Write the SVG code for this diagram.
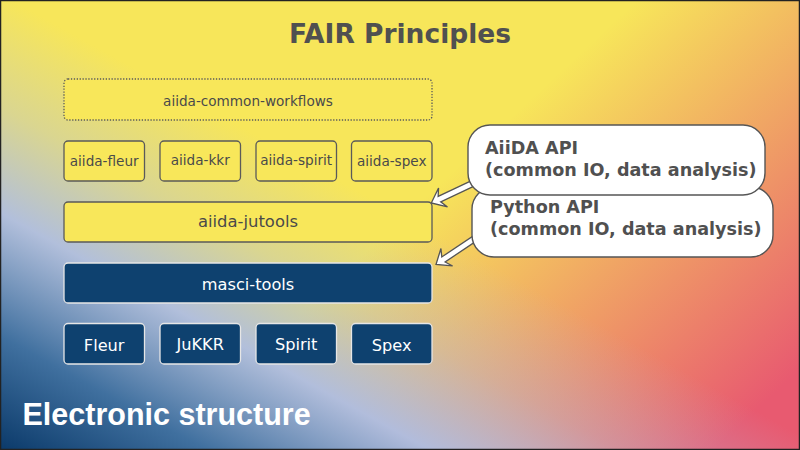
<svg xmlns="http://www.w3.org/2000/svg" width="800" height="450" viewBox="0 0 800 450">
<defs>
<linearGradient id="gRed" gradientUnits="userSpaceOnUse" x1="540" y1="90" x2="800" y2="370">
<stop offset="0" stop-color="#e85a70" stop-opacity="0"/>
<stop offset="1" stop-color="#e85a70" stop-opacity="1"/>
</linearGradient>
<linearGradient id="gBlue" gradientUnits="userSpaceOnUse" x1="0" y1="450" x2="193" y2="100">
<stop offset="0" stop-color="#0b3a6a" stop-opacity="1"/>
<stop offset="0.25" stop-color="#40709f" stop-opacity="1"/>
<stop offset="0.52" stop-color="#aebde2" stop-opacity="0.95"/>
<stop offset="0.75" stop-color="#aebde2" stop-opacity="0.4"/>
<stop offset="1" stop-color="#aebde2" stop-opacity="0"/>
</linearGradient>
<style>
.yb{fill:#f8e75a;stroke:#5a5a5a;stroke-width:1.3}
.db{fill:#0e416f;stroke:#e6e6e6;stroke-width:1.3}
.dot{stroke-dasharray:1.3 1.6}
.t{font-family:"DejaVu Sans",sans-serif;text-anchor:middle}
.tg{fill:#4a4a4a}
.tw{fill:#ffffff}
.s{font-size:13.6px}
.m{font-size:16.2px}
.co{fill:#ffffff;stroke:#555555;stroke-width:1.4}
.ct{font-family:"DejaVu Sans",sans-serif;font-weight:bold;font-size:17.6px;fill:#505050}
.ar{fill:#ffffff;stroke:#555555;stroke-width:1.3;stroke-linejoin:miter}
</style>
</defs>
<g id="background">
<rect x="0" y="0" width="800" height="450" fill="#f7e65a"/>
<rect x="0" y="0" width="800" height="450" fill="url(#gRed)"/>
<rect x="0" y="0" width="800" height="450" fill="url(#gBlue)"/>
<rect x="0.5" y="0.5" width="799" height="449" fill="none" stroke="#222222" stroke-width="1.5"/>
</g>
<text x="400" y="43" font-family="DejaVu Sans, sans-serif" font-weight="bold" font-size="26.5" fill="#505050" text-anchor="middle">FAIR Principles</text>
<g id="aiida-common-workflows">
<rect class="yb dot" x="64" y="79" width="368" height="41" rx="4"/>
<text class="t tg s" x="248" y="105.5">aiida-common-workflows</text>
</g>
<g id="aiida-fleur">
<rect class="yb" x="64" y="141" width="80.5" height="40" rx="4"/>
<text class="t tg s" x="104.2" y="166">aiida-fleur</text>
</g>
<g id="aiida-kkr">
<rect class="yb" x="160" y="141" width="80.5" height="40" rx="4"/>
<text class="t tg s" x="200.2" y="165">aiida-kkr</text>
</g>
<g id="aiida-spirit">
<rect class="yb" x="256" y="141" width="80.5" height="40" rx="4"/>
<text class="t tg s" x="296.2" y="165">aiida-spirit</text>
</g>
<g id="aiida-spex">
<rect class="yb" x="351.5" y="141" width="80.5" height="40" rx="4"/>
<text class="t tg s" x="391.7" y="166">aiida-spex</text>
</g>
<g id="aiida-jutools">
<rect class="yb" x="64" y="202" width="368" height="40" rx="4"/>
<text class="t tg" x="248" y="227" font-size="16.4">aiida-jutools</text>
</g>
<g id="masci-tools">
<rect class="db" x="64" y="263" width="368" height="40" rx="4"/>
<text class="t tw m" x="248" y="290">masci-tools</text>
</g>
<g id="Fleur">
<rect class="db" x="64" y="323.5" width="80.5" height="40.5" rx="4"/>
<text class="t tw m" x="104.2" y="350.5">Fleur</text>
</g>
<g id="JuKKR">
<rect class="db" x="160" y="323.5" width="80.5" height="40.5" rx="4"/>
<text class="t tw m" x="200.2" y="349.5">JuKKR</text>
</g>
<g id="Spirit">
<rect class="db" x="256" y="323.5" width="80.5" height="40.5" rx="4"/>
<text class="t tw m" x="296.2" y="349.5">Spirit</text>
</g>
<g id="Spex">
<rect class="db" x="351.5" y="323.5" width="80.5" height="40.5" rx="4"/>
<text class="t tw m" x="391.7" y="350.5">Spex</text>
</g>
<g id="connectors">
<polygon class="ar" transform="translate(476.5,181.6) rotate(154.7)" points="0,-3 41,-3 37,-10.5 50,0 37,10.5 41,3 0,3"/>
<polygon class="ar" transform="translate(477.5,236.6) rotate(146.1)" points="0,-3 41,-3 37,-10.5 50,0 37,10.5 41,3 0,3"/>
</g>
<g id="python-api">
<rect class="co" x="472" y="187" width="301" height="70" rx="22"/>
<text class="ct" x="490" y="212.5">Python API</text>
<text class="ct" x="490" y="234.5">(common IO, data analysis)</text>
</g>
<g id="aiida-api">
<rect class="co" x="468" y="125" width="297" height="70" rx="22"/>
<text class="ct" x="485" y="154">AiiDA API</text>
<text class="ct" x="485" y="175.5">(common IO, data analysis)</text>
</g>
<text x="22.5" y="425" font-family="Liberation Sans, Arial, sans-serif" font-weight="bold" font-size="30.5" fill="#ffffff">Electronic structure</text>
</svg>
